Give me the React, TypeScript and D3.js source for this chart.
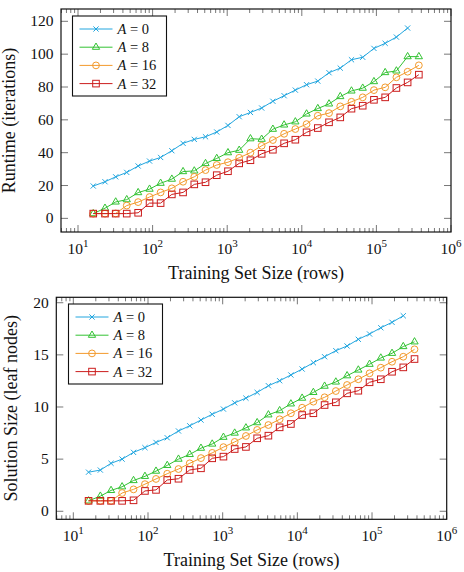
import * as React from "react";
import * as d3 from "d3";

// training set sizes (rows), one per measured point
const sizes = [
  16, 23, 32, 45, 64, 91, 128, 181, 256, 362, 512, 724, 1024, 1448, 2048, 2896,
  4096, 5793, 8192, 11585, 16384, 23170, 32768, 46341, 65536, 92682, 131072,
  185364, 262144, 370728,
];

const seriesNames = ["0", "8", "16", "32"];

// runtime (iterations)
const runtimeA0 = [
  19.7, 22.3, 25.3, 28.0, 31.9, 34.9, 37.1, 41.2, 45.7, 48.1, 49.7, 52.6, 56.6,
  61.9, 64.5, 67.2, 71.3, 74.7, 78.1, 81.4, 83.6, 88.7, 91.5, 96.6, 98.1, 103.5,
  106.6, 110.4, 115.9,
];
const runtimeA8 = [
  2.9, 6.2, 10.0, 11.4, 15.7, 17.8, 21.4, 23.9, 28.5, 28.9, 33.4, 36.5, 40.0,
  41.5, 48.5, 48.2, 54.3, 56.9, 58.8, 63.6, 66.9, 69.7, 74.2, 77.6, 79.3, 83.3,
  88.8, 89.8, 98.5, 98.5,
];
const runtimeA16 = [
  2.9, 2.9, 3.0, 7.8, 9.9, 13.0, 15.8, 18.3, 22.3, 25.3, 29.4, 32.5, 34.2, 36.9,
  40.0, 44.2, 47.7, 51.5, 54.4, 57.4, 62.5, 64.1, 68.2, 71.0, 73.7, 78.1, 79.8,
  85.9, 89.3, 93.2,
];
const runtimeA32 = [
  2.9, 2.9, 2.9, 2.9, 3.4, 9.3, 9.3, 14.6, 15.8, 20.7, 22.0, 26.3, 28.7, 33.5,
  35.4, 39.3, 41.8, 45.7, 47.9, 52.4, 55.0, 58.5, 61.5, 66.8, 68.6, 72.2, 73.7,
  79.4, 82.8, 87.5,
];

// solution size (leaf nodes)
const leavesA0 = [
  3.75, 3.95, 4.6, 5.0, 5.65, 6.1, 6.6, 7.05, 7.7, 8.2, 8.75, 9.3, 9.8, 10.4,
  10.85, 11.4, 12.04, 12.52, 13.07, 13.64, 14.25, 14.82, 15.4, 15.85, 16.49, 17.0,
  17.6, 18.12, 18.75,
];
const leavesA8 = [
  1.0, 1.45, 2.0, 2.35, 2.95, 3.35, 3.85, 4.4, 5.0, 5.45, 6.05, 6.45, 7.1, 7.5,
  8.0, 8.5, 9.25, 9.65, 10.3, 10.85, 11.4, 12.0, 12.4, 13.0, 13.55, 14.1, 14.7,
  15.15, 15.8, 16.25,
];
const leavesA16 = [
  1.0, 1.0, 1.0, 1.75, 2.1, 2.6, 3.1, 3.6, 4.05, 4.6, 5.1, 5.6, 6.15, 6.65, 7.22,
  7.8, 8.27, 8.82, 9.4, 9.93, 10.51, 10.93, 11.53, 12.11, 12.66, 13.23, 13.77,
  14.34, 14.82, 15.53,
];
const leavesA32 = [
  1.0, 1.0, 1.0, 1.0, 1.05, 1.95, 2.05, 3.0, 3.12, 3.96, 4.12, 5.08, 5.24, 5.97,
  6.17, 7.0, 7.25, 8.05, 8.37, 9.23, 9.4, 10.19, 10.45, 11.31, 11.56, 12.37, 12.66,
  13.38, 13.8, 14.6,
];

const runtimeTicks = [0, 20, 40, 60, 80, 100, 120];
const leavesTicks = [0, 5, 10, 15, 20];
const xTickExps = [1, 2, 3, 4, 5, 6];

const colors = ["#22a6df", "#33c233", "#f39a2c", "#cc1d1d"];
const shapes = ["cross", "triangle", "circle", "square"];

const FONT = "Liberation Serif, DejaVu Serif, serif";

const Marker = ({ shape, x, y, color }: { shape: string; x: number; y: number; color: string }) => {
  if (shape === "cross") {
    const r = 2.6;
    return (
      <path
        d={`M${x - r},${y - r}L${x + r},${y + r}M${x - r},${y + r}L${x + r},${y - r}`}
        stroke={color}
        strokeWidth={1}
      />
    );
  }
  if (shape === "triangle") {
    const r = 4.2;
    const pts = [90, 210, 330]
      .map((a) => {
        const t = (a * Math.PI) / 180;
        return `${x + r * Math.cos(t)},${y - r * Math.sin(t)}`;
      })
      .join(" ");
    return <polygon points={pts} fill="none" stroke={color} strokeWidth={1} />;
  }
  if (shape === "circle") {
    return <circle cx={x} cy={y} r={3.4} fill="none" stroke={color} strokeWidth={1} />;
  }
  return (
    <rect x={x - 3.3} y={y - 3.3} width={6.6} height={6.6} fill="none" stroke={color} strokeWidth={1} />
  );
};

interface PanelProps {
  left: number;
  top: number;
  right: number;
  bottom: number;
  yDomain: [number, number];
  yTicks: number[];
  yLabel: string;
  yLabelX: number;
  series: number[][];
  legend: { x: number; y: number; w: number; h: number };
}

const Panel: React.FC<PanelProps> = ({ left, top, right, bottom, yDomain, yTicks, yLabel, yLabelX, series, legend }) => {
  const x = d3.scaleLog().domain([Math.pow(10, 0.772), 1e6]).range([left, right]);
  const y = d3.scaleLinear().domain(yDomain).range([bottom, top]);

  const line = d3
    .line<number>()
    .x((d, i) => x(sizes[i]))
    .y((d) => y(d));

  const minor: number[] = [];
  for (let k = 0; k < 6; k++) {
    for (let m = 2; m <= 9; m++) {
      const v = m * Math.pow(10, k);
      if (v >= x.domain()[0] && v <= 1e6) minor.push(v);
    }
  }

  const major = 7;
  const minorLen = 4;
  const tickColor = "#555";

  return (
    <g>
      {/* ticks */}
      <g stroke={tickColor} strokeWidth={0.8}>
        {minor.map((v) => (
          <g key={"m" + v}>
            <line x1={x(v)} x2={x(v)} y1={bottom} y2={bottom - minorLen} />
            <line x1={x(v)} x2={x(v)} y1={top} y2={top + minorLen} />
          </g>
        ))}
        {xTickExps.map((e) => (
          <g key={"x" + e}>
            <line x1={x(Math.pow(10, e))} x2={x(Math.pow(10, e))} y1={bottom} y2={bottom - major} />
            <line x1={x(Math.pow(10, e))} x2={x(Math.pow(10, e))} y1={top} y2={top + major} />
          </g>
        ))}
        {yTicks.map((t) => (
          <g key={"y" + t}>
            <line x1={left} x2={left + major} y1={y(t)} y2={y(t)} />
            <line x1={right} x2={right - major} y1={y(t)} y2={y(t)} />
          </g>
        ))}
      </g>

      {/* series */}
      {series.map((s, si) => (
        <g key={si}>
          <path d={line(s) || undefined} fill="none" stroke={colors[si]} strokeWidth={1} />
          {s.map((v, i) => (
            <Marker key={i} shape={shapes[si]} x={x(sizes[i])} y={y(v)} color={colors[si]} />
          ))}
        </g>
      ))}

      {/* frame */}
      <rect x={left} y={top} width={right - left} height={bottom - top} fill="none" stroke="#111" strokeWidth={1.2} />

      {/* tick labels */}
      {yTicks.map((t) => (
        <text key={"yl" + t} x={left - 7.5} y={y(t)} dy="0.33em" textAnchor="end" fontSize={15.5} fill="#111">
          {t}
        </text>
      ))}
      {xTickExps.map((e) => (
        <text key={"xl" + e} x={x(Math.pow(10, e))} y={bottom + 21.5} textAnchor="middle" fontSize={15.5} fill="#111">
          10
          <tspan fontSize={11} dy={-6.5}>
            {e}
          </tspan>
        </text>
      ))}

      {/* axis labels */}
      <text x={(left + right) / 2} y={bottom + 47} textAnchor="middle" fontSize={18} fill="#111">
        Training Set Size (rows)
      </text>
      <text
        transform={`translate(${yLabelX},${(top + bottom) / 2}) rotate(-90)`}
        textAnchor="middle"
        fontSize={18}
        fill="#111"
      >
        {yLabel}
      </text>

      {/* legend */}
      <g>
        <rect x={legend.x} y={legend.y} width={legend.w} height={legend.h} fill="white" stroke="#111" strokeWidth={1.1} />
        {seriesNames.map((n, i) => {
          const ry = legend.y + 13 + i * 18.2;
          const lx = legend.x + 7;
          return (
            <g key={n}>
              <line x1={lx} x2={lx + 33} y1={ry} y2={ry} stroke={colors[i]} strokeWidth={1} />
              <Marker shape={shapes[i]} x={lx + 16.5} y={ry} color={colors[i]} />
              <text x={lx + 38} y={ry} dy="0.35em" fontSize={14.5} fill="#111">
                <tspan fontStyle="italic">A</tspan>
                {" = " + n}
              </text>
            </g>
          );
        })}
      </g>
    </g>
  );
};

const App: React.FC = () => {
  return (
    <svg
      width={464}
      height={572}
      style={{ position: "absolute", left: 0, top: 0, background: "white", fontFamily: FONT }}
    >
      <Panel
        left={61}
        top={9}
        right={451}
        bottom={232}
        yDomain={[-8.3, 127.5]}
        yTicks={runtimeTicks}
        yLabel="Runtime (iterations)"
        yLabelX={15}
        series={[runtimeA0, runtimeA8, runtimeA16, runtimeA32]}
        legend={{ x: 72.5, y: 16, w: 94, h: 80 }}
      />
      <Panel
        left={56.3}
        top={297.3}
        right={446.7}
        bottom={519.3}
        yDomain={[-0.77, 20.52]}
        yTicks={leavesTicks}
        yLabel="Solution Size (leaf nodes)"
        yLabelX={17}
        series={[leavesA0, leavesA8, leavesA16, leavesA32]}
        legend={{ x: 68.5, y: 304, w: 94, h: 80 }}
      />
    </svg>
  );
};

export default App;
